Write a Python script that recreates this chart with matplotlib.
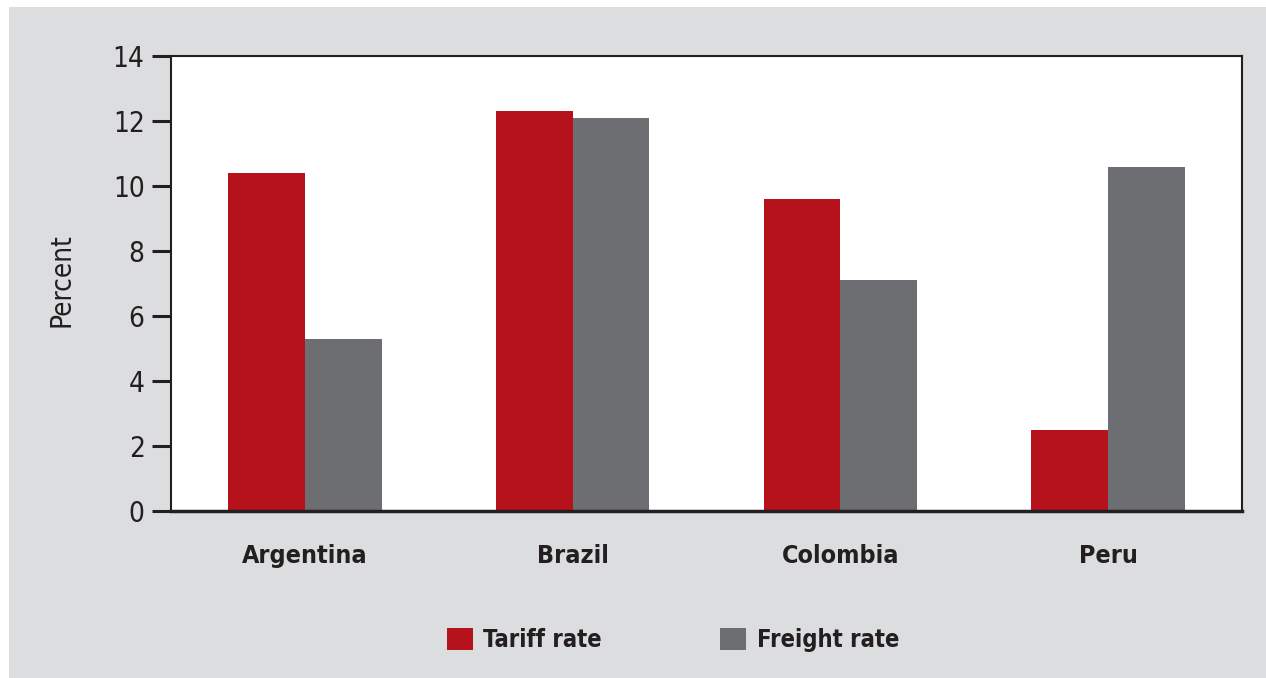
import matplotlib.pyplot as plt
from matplotlib.patches import Rectangle

countries = ['Argentina', 'Brazil', 'Colombia', 'Peru']
tariff = [10.4, 12.3, 9.6, 2.5]
freight = [5.3, 12.1, 7.1, 10.6]

red = '#b5121b'
grey = '#6d6e71'
bg = '#dcdddf'
txt = '#231f20'

plt.rcParams['font.family'] = ['DejaVu Sans']
plt.rcParams['font.stretch'] = 'condensed'

W, H = 1266, 678
fig = plt.figure(figsize=(W / 100, H / 100), dpi=100)
fig.patch.set_facecolor('white')
fig.patches.append(Rectangle((9 / W, 0), 1, 1 - 7 / H, transform=fig.transFigure,
                             facecolor=bg, edgecolor='none', zorder=-10))

ax = fig.add_axes([171 / W, 1 - 511 / H, (1242 - 171) / W, (511 - 56) / H])
ax.set_facecolor('white')

x = range(len(countries))
w = 0.287
ax.bar([i - w / 2 for i in x], tariff, w, color=red, label='Tariff rate')
ax.bar([i + w / 2 for i in x], freight, w, color=grey, label='Freight rate')

ax.set_xlim(-0.5, 3.5)
ax.set_ylim(0, 14)
ax.set_yticks(range(0, 15, 2))
ax.set_xticks(list(x))
ax.set_xticklabels(countries, fontsize=18, color=txt, fontweight='bold',
                   fontstretch='condensed')
ax.tick_params(axis='x', length=0, pad=24)
ax.tick_params(axis='y', length=14, width=2.2, color=txt, labelsize=20,
               labelcolor=txt, pad=5)
for lab in ax.get_yticklabels():
    lab.set_fontstretch('condensed')
for s in ax.spines.values():
    s.set_color(txt)
    s.set_linewidth(1.5)
ax.spines['bottom'].set_linewidth(2.5)

fig.text(62 / W, 1 - 280 / H, 'Percent', rotation=90, ha='center', va='center',
         fontsize=20, color=txt, fontstretch='condensed')

fig.legend(loc='center', bbox_to_anchor=(673 / W, 1 - 640 / H), ncol=2,
           frameon=False, handlelength=1.1, handleheight=1.1,
           handletextpad=0.45, columnspacing=5.0, labelcolor=txt,
           prop={'weight': 'bold', 'size': 17, 'stretch': 'condensed'})

fig.savefig('out.png', dpi=100, facecolor=fig.get_facecolor())
